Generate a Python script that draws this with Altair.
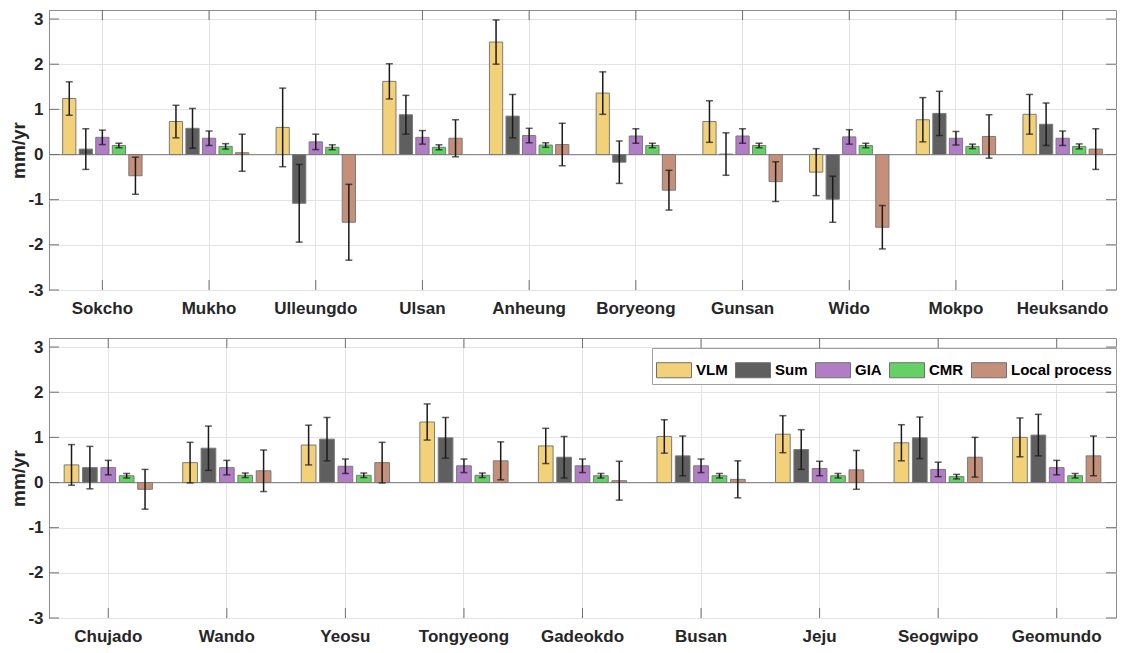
import altair as alt
import pandas as pd

components = ["VLM", "Sum", "GIA", "CMR", "Local process"]
colors = ["#F3D178", "#5F5F5F", "#B17DC6", "#63D163", "#C4907A"]
y_ticks = [-3, -2, -1, 0, 1, 2, 3]

stations_top = ["Sokcho", "Mukho", "Ulleungdo", "Ulsan", "Anheung",
                "Boryeong", "Gunsan", "Wido", "Mokpo", "Heuksando"]
top_vlm = [1.24, 0.73, 0.60, 1.62, 2.49, 1.36, 0.73, -0.39, 0.77, 0.89]
top_vlm_err = [0.37, 0.36, 0.87, 0.39, 0.49, 0.47, 0.46, 0.52, 0.49, 0.44]
top_sum = [0.12, 0.58, -1.08, 0.88, 0.85, -0.17, 0.01, -0.99, 0.91, 0.67]
top_sum_err = [0.45, 0.44, 0.86, 0.43, 0.48, 0.47, 0.47, 0.51, 0.49, 0.47]
top_gia = [0.38, 0.36, 0.28, 0.38, 0.42, 0.41, 0.41, 0.39, 0.36, 0.36]
top_gia_err = [0.16, 0.16, 0.17, 0.15, 0.16, 0.16, 0.16, 0.16, 0.15, 0.16]
top_cmr = [0.20, 0.18, 0.16, 0.16, 0.21, 0.20, 0.20, 0.20, 0.18, 0.18]
top_cmr_err = [0.05, 0.06, 0.055, 0.055, 0.05, 0.05, 0.05, 0.05, 0.05, 0.055]
top_loc = [-0.47, 0.04, -1.50, 0.36, 0.22, -0.79, -0.60, -1.61, 0.40, 0.12]
top_loc_err = [0.41, 0.41, 0.84, 0.41, 0.47, 0.44, 0.44, 0.48, 0.48, 0.45]

stations_bot = ["Chujado", "Wando", "Yeosu", "Tongyeong", "Gadeokdo",
                "Busan", "Jeju", "Seogwipo", "Geomundo"]
bot_vlm = [0.39, 0.44, 0.83, 1.34, 0.81, 1.02, 1.07, 0.88, 1.00]
bot_vlm_err = [0.45, 0.45, 0.44, 0.40, 0.39, 0.37, 0.41, 0.40, 0.43]
bot_sum = [0.33, 0.76, 0.96, 0.99, 0.56, 0.59, 0.73, 0.99, 1.05]
bot_sum_err = [0.47, 0.49, 0.48, 0.45, 0.46, 0.44, 0.44, 0.46, 0.46]
bot_gia = [0.33, 0.33, 0.36, 0.37, 0.37, 0.37, 0.31, 0.29, 0.33]
bot_gia_err = [0.16, 0.16, 0.16, 0.15, 0.15, 0.15, 0.16, 0.16, 0.16]
bot_cmr = [0.15, 0.16, 0.16, 0.16, 0.15, 0.15, 0.15, 0.13, 0.15]
bot_cmr_err = [0.05, 0.05, 0.05, 0.05, 0.05, 0.05, 0.05, 0.05, 0.05]
bot_loc = [-0.15, 0.26, 0.44, 0.48, 0.04, 0.07, 0.28, 0.56, 0.59]
bot_loc_err = [0.44, 0.46, 0.45, 0.42, 0.43, 0.41, 0.43, 0.44, 0.44]

W, H = 1067, 280
FONT = "Liberation Sans"


def make_df(stations, vals, errs):
    rows = []
    for ci, comp in enumerate(components):
        for si, st in enumerate(stations):
            v, e = vals[ci][si], errs[ci][si]
            rows.append(dict(station=st, comp=comp, value=v, lo=v - e, hi=v + e))
    return pd.DataFrame(rows)


def panel(stations, df, show_legend):
    xs = alt.Scale(domain=stations, paddingInner=0, paddingOuter=0)
    x = alt.X("station:N", scale=xs, sort=stations,
              axis=alt.Axis(title=None, labelAngle=0, labelFontSize=17,
                            labelFontWeight="bold", labelFont=FONT,
                            labelColor="#262626", labelPadding=10,
                            ticks=False, domain=False, grid=True,
                            gridColor="#e3e3e3", bandPosition=0.5))
    xo = alt.XOffset("comp:N", sort=components,
                     scale=alt.Scale(domain=components, paddingInner=0.2,
                                     paddingOuter=0.825))
    ys = alt.Scale(domain=[-3, 3.2], nice=False, zero=False)
    y = alt.Y("value:Q", scale=ys,
              axis=alt.Axis(values=y_ticks, labelExpr="datum.value",
                            title="mm/yr", titleFontSize=19,
                            titleFontWeight="bold", titleFont=FONT,
                            titleColor="#262626", titleX=-21, titleY=H / 2,
                            labelFontSize=17, labelFontWeight="bold",
                            labelFont=FONT, labelColor="#262626",
                            labelPadding=6, ticks=False, domain=False,
                            grid=True, gridColor="#e3e3e3"))
    if show_legend:
        legend = alt.Legend(title=None, orient="none", legendX=W - 464, legendY=10,
                            direction="horizontal", columns=5,
                            symbolType="M-1,-0.43H1V0.43H-1Z", symbolSize=1225,
                            symbolStrokeColor="#707070", symbolStrokeWidth=1,
                            symbolOpacity=1,
                            labelFontSize=15, labelFontWeight="bold",
                            labelFont=FONT, labelColor="#000000",
                            fillColor="white", strokeColor="#a0a0a0",
                            padding=4, columnPadding=5, labelOffset=4)
    else:
        legend = None
    color = alt.Color("comp:N", scale=alt.Scale(domain=components, range=colors),
                      legend=legend)

    base = alt.Chart(df)
    zero = alt.Chart(pd.DataFrame({"z": [0]})).mark_rule(
        color="#8c8c8c", strokeWidth=1.2).encode(y=alt.Y("z:Q", scale=ys))
    bars = base.mark_bar(stroke="#7a7a7a", strokeWidth=1).encode(
        x=x, xOffset=xo, y=y, color=color)
    errs = base.mark_rule(color="#1a1a1a", strokeWidth=1.5).encode(
        x=alt.X("station:N", scale=xs, sort=stations), xOffset=xo,
        y=alt.Y("lo:Q", scale=ys), y2="hi:Q")
    cap_lo = base.mark_tick(color="#1a1a1a", size=7, thickness=1.5,
                            orient="horizontal").encode(
        x=alt.X("station:N", scale=xs, sort=stations), xOffset=xo,
        y=alt.Y("lo:Q", scale=ys))
    cap_hi = base.mark_tick(color="#1a1a1a", size=7, thickness=1.5,
                            orient="horizontal").encode(
        x=alt.X("station:N", scale=xs, sort=stations), xOffset=xo,
        y=alt.Y("hi:Q", scale=ys))

    sdf = pd.DataFrame({"station": stations})
    tk_bot = alt.Chart(sdf).mark_rule(color="#707070").encode(
        x=alt.X("station:N", scale=xs, sort=stations),
        y=alt.value(H), y2=alt.value(H - 10))
    tk_top = alt.Chart(sdf).mark_rule(color="#707070").encode(
        x=alt.X("station:N", scale=xs, sort=stations),
        y=alt.value(0), y2=alt.value(10))
    ydf = pd.DataFrame({"t": y_ticks})
    tk_left = alt.Chart(ydf).mark_rule(color="#707070").encode(
        y=alt.Y("t:Q", scale=ys), x=alt.value(0), x2=alt.value(10))
    tk_right = alt.Chart(ydf).mark_rule(color="#707070").encode(
        y=alt.Y("t:Q", scale=ys), x=alt.value(W), x2=alt.value(W - 10))

    return alt.layer(zero, bars, errs, cap_lo, cap_hi,
                     tk_bot, tk_top, tk_left, tk_right).properties(
        width=W, height=H)


df_top = make_df(stations_top,
                 [top_vlm, top_sum, top_gia, top_cmr, top_loc],
                 [top_vlm_err, top_sum_err, top_gia_err, top_cmr_err, top_loc_err])
df_bot = make_df(stations_bot,
                 [bot_vlm, bot_sum, bot_gia, bot_cmr, bot_loc],
                 [bot_vlm_err, bot_sum_err, bot_gia_err, bot_cmr_err, bot_loc_err])

top = panel(stations_top, df_top, False)
bot = panel(stations_bot, df_bot, True)

chart = alt.vconcat(top, bot, spacing=20).resolve_scale(
    x="independent", xOffset="independent", color="independent"
).resolve_legend(color="independent").properties(
    padding={"left": 0, "top": 1, "right": 0, "bottom": 0},
    background="white"
).configure_view(stroke="#8c8c8c", strokeWidth=1)

chart.save("out.html", embed_options={"renderer": "svg", "actions": False})
